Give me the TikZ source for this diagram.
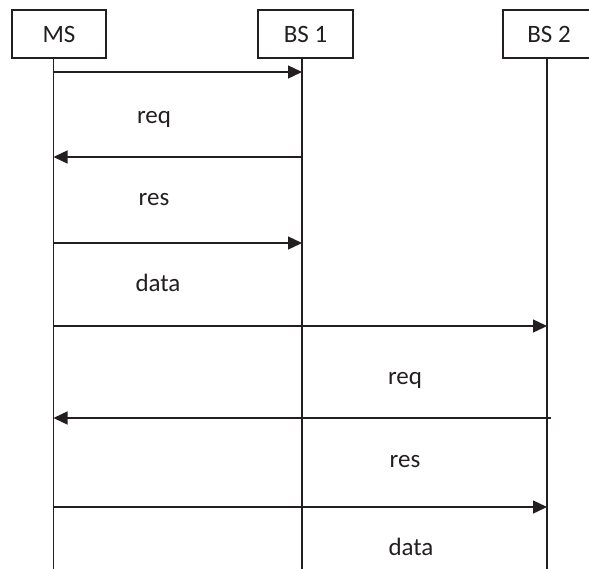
\documentclass[tikz,border=0pt]{standalone}
\usepackage{fontspec}
\setmainfont{Carlito}
\usetikzlibrary{arrows.meta}
\definecolor{ink}{HTML}{231F20}
\begin{document}
\begin{tikzpicture}[x=1pt,y=-1pt,
  actor/.style={draw=ink,line width=1.4pt,minimum height=48pt,inner sep=0pt,font=\fontsize{25}{27}\selectfont,text=ink},
  life/.style={draw=ink,line width=1.4pt},
  msg/.style={draw=ink,line width=1.4pt,-{Triangle[length=14pt,width=13pt]}},
  lbl/.style={font=\fontsize{25}{27}\selectfont,text=ink}]
\useasboundingbox (0,0) rectangle (589,568);
\clip (0,0) rectangle (589,568);
\node[actor,minimum width=94pt] (ms) at (59,34) {MS};
\node[actor,minimum width=95pt] (bs1) at (305.5,34) {BS 1};
\node[actor,minimum width=92pt] (bs2) at (549,34) {BS 2};
\coordinate (msE) at (53.5,570);
\coordinate (bs1E) at (302,570);
\coordinate (bs2E) at (547,570);
\draw[life] (ms.south -| msE) -- (msE);
\draw[life] (bs1.south -| bs1E) -- (bs1E);
\draw[life] (bs2.south -| bs2E) -- (bs2E);
% message anchor points
\foreach \y/\n in {72/a,157/b,243/c,326/d,418/e,507/f}{
  \coordinate (ms\n) at (53.5,\y);
  \coordinate (bsa\n) at (302,\y);
  \coordinate (bsb\n) at (547,\y);
}
\coordinate (bsbx) at (551,418);
\draw[msg] (msa) -- (bsaa);
\draw[msg] (bsab) -- (msb);
\draw[msg] (msc) -- (bsac);
\draw[msg] (msd) -- (bsbd);
\draw[msg] (bsbx) -- (mse);
\draw[msg] (msf) -- (bsbf);
\node[lbl] (l1) at (154,119) {req};
\node[lbl] (l2) at (154,200) {res};
\node[lbl] (l3) at (158,283) {data};
\node[lbl] (l4) at (405,380) {req};
\node[lbl] (l5) at (405,462) {res};
\node[lbl] (l6) at (411,547) {data};
\end{tikzpicture}
\end{document}
